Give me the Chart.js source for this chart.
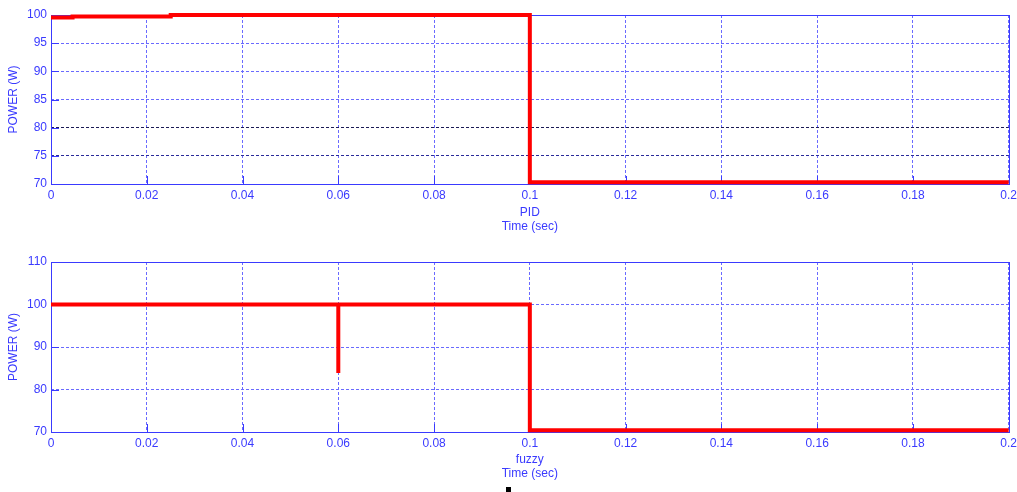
<!DOCTYPE html>
<html>
<head>
<meta charset="utf-8">
<script src="https://cdn.jsdelivr.net/npm/chart.js@4.4.0/dist/chart.umd.min.js"></script>
<style>
body { margin: 0; background: #fff; width: 1017px; height: 492px; overflow: hidden; position: relative; }
.box { position: absolute; left: 0; width: 1021px; }
#mark { position: absolute; left: 506px; top: 487px; width: 5px; height: 5px; background: #000; }
</style>
</head>
<body>
<div class="box" style="top:0"><canvas id="pid" width="1021" height="240"></canvas></div>
<div class="box" style="top:240px"><canvas id="fuzzy" width="1021" height="252"></canvas></div>
<div id="mark"></div>
<script>
const timeTicks = [0, 0.02, 0.04, 0.06, 0.08, 0.1, 0.12, 0.14, 0.16, 0.18, 0.2];
const pidTicks = [70, 75, 80, 85, 90, 95, 100];
const fuzzyTicks = [70, 80, 90, 100, 110];

const pidTime  = [0, 0.0045, 0.0045, 0.025, 0.025, 0.1, 0.1, 0.2];
const pidPower = [99.55, 99.55, 99.75, 99.75, 100, 100, 70.3, 70.3];

const fuzzyTime  = [0, 0.06, 0.06, 0.06, 0.1, 0.1, 0.2];
const fuzzyPower = [100, 100, 83.9, 100, 100, 70.4, 70.4];

const blue = '#3a3aff';
const gridBlue = '#6a6aff';
const font = { family: 'Arial, "Liberation Sans", sans-serif', size: 12 };

// box round the plot plus short solid ticks pointing inward
const frame = {
    id: 'frame',
    beforeDatasetsDraw(chart) {
        const { ctx, chartArea: a, scales } = chart;
        ctx.save();
        ctx.strokeStyle = blue;
        ctx.lineWidth = 1;
        ctx.setLineDash([]);
        ctx.beginPath();
        scales.x.ticks.forEach(t => {
            const px = Math.round(scales.x.getPixelForValue(t.value)) + 0.5;
            ctx.moveTo(px, a.bottom); ctx.lineTo(px, a.bottom - 8);
        });
        scales.y.ticks.forEach(t => {
            const py = Math.round(scales.y.getPixelForValue(t.value)) + 0.5;
            ctx.moveTo(a.left, py); ctx.lineTo(a.left + 8, py);
        });
        ctx.stroke();
        ctx.strokeRect(Math.round(a.left) + 0.5, Math.round(a.top) + 0.5,
                       Math.round(a.right - a.left), Math.round(a.bottom - a.top));
        ctx.restore();
    }
};

function makeChart(id, times, powers, yTicks, label, topPad, xHeight, titlePad, darkLines) {
    new Chart(document.getElementById(id), {
        type: 'line',
        data: {
            datasets: [{
                data: times.map((t, i) => ({ x: t, y: powers[i] })),
                borderColor: '#ff0000',
                borderWidth: 4,
                pointRadius: 0,
                tension: 0,
                clip: false
            }]
        },
        options: {
            responsive: false,
            animation: false,
            layout: { padding: { top: topPad, right: 8, left: 0, bottom: 0 } },
            plugins: { legend: { display: false }, tooltip: { enabled: false } },
            scales: {
                x: {
                    type: 'linear',
                    min: 0, max: 0.2,
                    afterBuildTicks: s => { s.ticks = timeTicks.map(v => ({ value: v })); },
                    afterFit: s => { s.height = xHeight; },
                    ticks: { color: blue, font, padding: 4, maxRotation: 0, autoSkip: false,
                             callback: v => String(+v.toFixed(2)) },
                    grid: { color: gridBlue, drawTicks: false, lineWidth: 1 },
                    border: { display: false, dash: [3, 2] },
                    title: { display: true, text: [label, 'Time (sec)'], color: blue, font,
                             padding: { top: 0, bottom: titlePad } }
                },
                y: {
                    min: yTicks[0], max: yTicks[yTicks.length - 1],
                    afterBuildTicks: s => { s.ticks = yTicks.map(v => ({ value: v })); },
                    afterFit: s => { s.width = 51; },
                    ticks: { color: blue, font, padding: 4 },
                    grid: {
                        drawTicks: false, lineWidth: 1,
                        color: c => (c.tick && darkLines[c.tick.value]) || gridBlue
                    },
                    border: { display: false, dash: [3, 2] },
                    title: { display: true, text: 'POWER (W)', color: blue, font,
                             padding: { top: 6, bottom: 0 } }
                }
            }
        },
        plugins: [frame]
    });
}

makeChart('pid', pidTime, pidPower, pidTicks, 'PID', 15, 56, 6, { 80: '#1a1a55', 75: '#2a2a99' });
makeChart('fuzzy', fuzzyTime, fuzzyPower, fuzzyTicks, 'fuzzy', 22, 60, 11, {});
</script>
</body>
</html>
